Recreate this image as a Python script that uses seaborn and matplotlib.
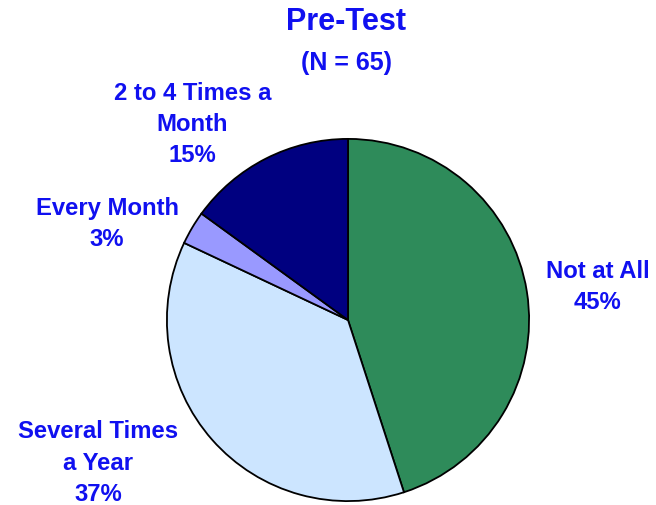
import matplotlib
matplotlib.use("Agg")
import matplotlib.pyplot as plt
import seaborn as sns

# --- Data ---
categories = ["Not at All", "Several Times\na Year", "Every Month", "2 to 4 Times a\nMonth"]
percents = [45, 37, 3, 15]
slice_colors = ["#2E8B5A", "#CCE5FF", "#9999FF", "#000080"]

# label anchor points (pie radius units)
label_x = [1.38, -1.38, -1.33, -0.86]
label_y = [0.18, -0.79, 0.53, 1.08]

sns.set_style("white")
plt.rcParams['font.family'] = ['Liberation Sans', 'DejaVu Sans']
text_color = "#1010F0"

fig = plt.figure(figsize=(6.56, 5.05), dpi=100)
ax = fig.add_axes([(348 - 182) / 656, 3 / 505, 364 / 656, 364 / 505])

ax.pie(
    percents,
    colors=slice_colors,
    startangle=90,
    counterclock=False,
    radius=1,
    wedgeprops={"edgecolor": "black", "linewidth": 1.3},
)
ax.set_xlim(-1.005, 1.005)
ax.set_ylim(-1.005, 1.005)
ax.set_aspect("equal")
ax.axis("off")

for name, p, x, y in zip(categories, percents, label_x, label_y):
    ax.text(x, y, f"{name}\n{p}%", ha="center", va="center",
            fontsize=17.2, fontweight="bold", color=text_color,
            linespacing=1.45)

fig.text(0.528, 1 - 22 / 505, "Pre-Test", ha="center", va="center",
         fontsize=22, fontweight="bold", color=text_color)
fig.text(0.528, 1 - 63 / 505, "(N = 65)", ha="center", va="center",
         fontsize=18, fontweight="bold", color=text_color)

fig.savefig("out.png", dpi=100)
